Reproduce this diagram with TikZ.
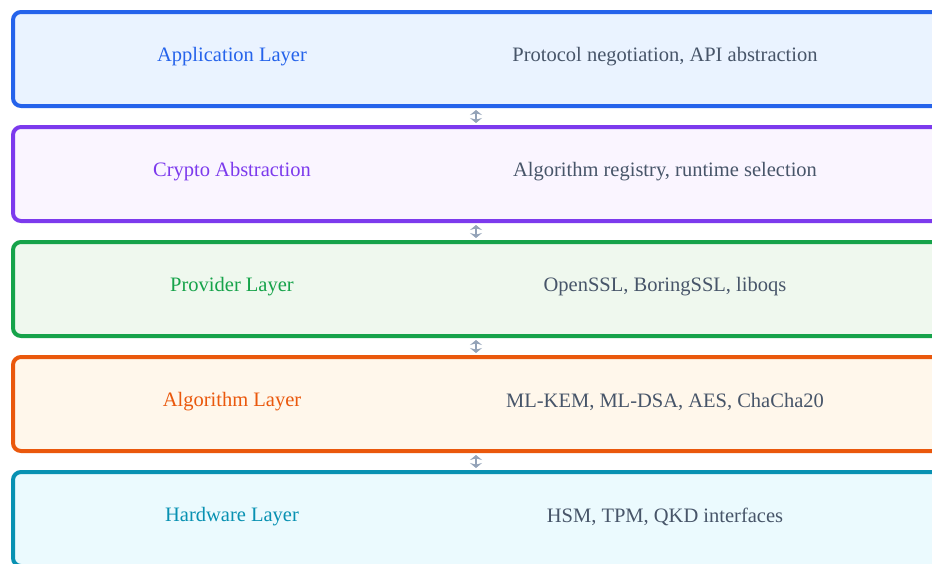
\documentclass[tikz,border=0pt]{standalone}
\usepackage{fontspec}
\setmainfont{Liberation Serif}
\newfontfamily\layerfont{Liberation Serif}
\usetikzlibrary{arrows.meta}
\definecolor{appblue}{HTML}{2563EB}
\definecolor{appfill}{HTML}{EAF3FF}
\definecolor{cryptopurple}{HTML}{7C3AED}
\definecolor{cryptofill}{HTML}{FAF5FF}
\definecolor{provgreen}{HTML}{16A34A}
\definecolor{provfill}{HTML}{EFF8EE}
\definecolor{algorange}{HTML}{EA580C}
\definecolor{algfill}{HTML}{FFF7EB}
\definecolor{hwcyan}{HTML}{0891B2}
\definecolor{hwfill}{HTML}{EBFAFE}
\definecolor{desctext}{HTML}{475569}
\definecolor{linkgray}{HTML}{94A3B8}
\begin{document}
\begin{tikzpicture}[x=1pt,y=-1pt,
  layerbox/.style={draw,line width=4pt,rounded corners=8pt,anchor=north west,
    minimum width=1000pt,minimum height=94pt,inner sep=0pt},
  layername/.style={font=\layerfont\fontsize{20.5}{24}\selectfont},
  layerdesc/.style={font=\layerfont\fontsize{20.5}{24}\selectfont,text=desctext},
  linkarrow/.style={{Stealth[length=5pt,width=12pt]}-{Stealth[length=5pt,width=12pt]},
    draw=linkgray,line width=2pt,shorten <=2pt,shorten >=2pt}]
\useasboundingbox (0,0) rectangle (932,563);
\clip (0,0) rectangle (932,563);
% layers
\node[layerbox,draw=appblue,fill=appfill] (app) at (11,10) {};
\node[layerbox,draw=cryptopurple,fill=cryptofill] (crypto) at (11,125) {};
\node[layerbox,draw=provgreen,fill=provfill] (prov) at (11,240) {};
\node[layerbox,draw=algorange,fill=algfill] (alg) at (11,355) {};
\node[layerbox,draw=hwcyan,fill=hwfill] (hw) at (11,470) {};
% names and descriptions
\node[layername,text=appblue] (appname) at (232,57) {Application Layer};
\node[layerdesc] (appdesc) at (665,57) {Protocol negotiation, API abstraction};
\node[layername,text=cryptopurple] (cryptoname) at (232,172) {Crypto Abstraction};
\node[layerdesc] (cryptodesc) at (665,172) {Algorithm registry, runtime selection};
\node[layername,text=provgreen] (provname) at (232,287) {Provider Layer};
\node[layerdesc] (provdesc) at (665,287) {OpenSSL, BoringSSL, liboqs};
\node[layername,text=algorange] (algname) at (232,402) {Algorithm Layer};
\node[layerdesc] (algdesc) at (665,402) {ML-KEM, ML-DSA, AES, ChaCha20};
\node[layername,text=hwcyan] (hwname) at (232,517) {Hardware Layer};
\node[layerdesc] (hwdesc) at (665,517) {HSM, TPM, QKD interfaces};
% links
\coordinate (linkx) at (476,0);
\draw[linkarrow] (app.south -| linkx) -- (crypto.north -| linkx);
\draw[linkarrow] (crypto.south -| linkx) -- (prov.north -| linkx);
\draw[linkarrow] (prov.south -| linkx) -- (alg.north -| linkx);
\draw[linkarrow] (alg.south -| linkx) -- (hw.north -| linkx);
\end{tikzpicture}
\end{document}
